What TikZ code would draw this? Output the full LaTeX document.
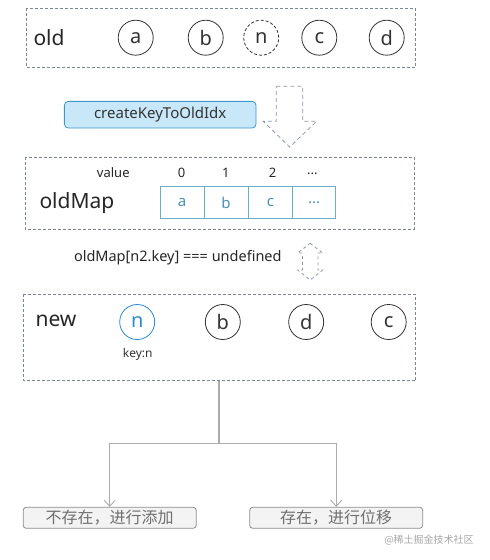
\documentclass[tikz,border=0pt]{standalone}
\usepackage{fontspec}
\setmainfont{Noto Sans}
\newfontfamily\cjk{Noto Sans CJK SC}
\usetikzlibrary{arrows.meta}
\definecolor{dashgray}{HTML}{7B8794}
\definecolor{circblack}{HTML}{333333}
\definecolor{nblue}{HTML}{2D8BC9}
\definecolor{cellline}{HTML}{6AAFC8}
\definecolor{celltext}{HTML}{4A8FB5}
\definecolor{btnfill}{HTML}{C8E8F9}
\definecolor{btnline}{HTML}{3F94CC}
\definecolor{arrowgray}{HTML}{8A96A8}
\definecolor{resfill}{HTML}{F3F3F3}
\definecolor{resline}{HTML}{8C8C8C}
\definecolor{restext}{HTML}{707070}
\definecolor{linegray}{HTML}{ABABAB}
\tikzset{
  panel/.style={draw=dashgray, dashed, line width=0.7pt, dash pattern=on 3pt off 2pt},
  letter/.style={circle, draw=circblack, line width=0.8pt, minimum size=35pt, inner sep=0pt, font=\fontsize{20}{20}\selectfont, text=circblack},
  bigtxt/.style={font=\fontsize{21}{21}\selectfont, text=black!85},
  smalltxt/.style={font=\fontsize{13}{13}\selectfont, text=black!85},
  cell/.style={draw=cellline, line width=0.8pt, minimum width=44pt, minimum height=31.6pt, inner sep=0pt, font=\fontsize{15}{15}\selectfont, text=celltext},
  result/.style={draw=resline, fill=resfill, rounded corners=3pt, line width=0.8pt, minimum width=173pt, minimum height=21pt, inner sep=0pt, font=\cjk\fontsize{16}{16}\selectfont, text=restext},
  conn/.style={draw=linegray, line width=1.2pt},
  blockarrow/.style={draw=arrowgray, dashed, line width=0.8pt, dash pattern=on 4pt off 3pt}
}
\begin{document}
\begin{tikzpicture}[x=1pt,y=-1pt]
\useasboundingbox (0,0) rectangle (490,560);
% old panel
\draw[panel] (26,8) rectangle (415.5,67);
\node[bigtxt, anchor=west] (oldlbl) at (30,37.5) {old};
\node[letter] (oa) at (135.7,37.7) {a};
\node[letter] (ob) at (205.7,37.7) {b};
\node[letter, dashed, dash pattern=on 3pt off 2pt] (on) at (261.2,37.7) {n};
\node[letter] (oc) at (319.3,37.7) {c};
\node[letter] (od) at (386.7,37.7) {d};
% createKeyToOldIdx
\node[draw=btnline, fill=btnfill, rounded corners=4pt, line width=0.8pt, minimum width=191.7pt, minimum height=26.7pt, inner sep=0pt, font=\fontsize{15}{15}\selectfont, text=black!80] (ck) at (160.2,114.7) {createKeyToOldIdx};
% dashed block arrow down
\draw[blockarrow] (276.3,86.3) -- (302.7,86.3) -- (302.7,121.3) -- (316.7,121.3) -- (289.7,147) -- (263.3,121.3) -- (276.3,121.3) -- cycle;
% oldMap panel
\draw[panel] (25.3,157.3) rectangle (414,229.3);
\node[bigtxt, anchor=west] (omlbl) at (36,202.7) {oldMap};
\node[smalltxt] (val) at (113.3,172.7) {value};
\node[smalltxt] (i0) at (181.7,172.7) {0};
\node[smalltxt] (i1) at (225.8,172.7) {1};
\node[smalltxt] (i2) at (272.7,172.7) {2};
\node[smalltxt] (i3) at (312.3,174) {...};
\node[cell, anchor=west] (ca) at (159.7,202.5) {a};
\node[cell, anchor=west] (cb) at (203.7,202.5) {b};
\node[cell, anchor=west] (cc) at (248,202.5) {c};
\node[cell, anchor=west, minimum width=43.3pt] (cd) at (292,202.5) {...};
% condition text
\node[smalltxt, font=\fontsize{14.5}{14.5}\selectfont] (cond) at (177.8,257.7) {oldMap[n2.key] === undefined};
% double dashed arrow
\draw[blockarrow, dash pattern=on 3pt off 3pt] (310.2,243.3) -- (322.7,253) -- (318,253) -- (318,270) -- (322.7,270) -- (310.2,280) -- (297.7,270) -- (302.4,270) -- (302.4,253) -- (297.7,253) -- cycle;
% new panel
\draw[panel] (23.3,294.3) rectangle (415.7,380.7);
\node[bigtxt, anchor=west] (newlbl) at (32,320.7) {new};
\node[letter, draw=nblue, text=nblue] (nn) at (137.2,322) {n};
\node[letter] (nb) at (222.8,322) {b};
\node[letter] (nd) at (306.2,322) {d};
\node[letter] (nc) at (388.7,322) {c};
\node[font=\fontsize{12}{12}\selectfont, text=black!80] (key) at (137.7,354) {key:n};
% results
\coordinate (top) at (219,380.7);
\coordinate (split) at (219,443.7);
\node[result] (r1) at (109.7,517.8) {不存在，进行添加};
\node[result] (r2) at (336.2,517.8) {存在，进行位移};
\draw[conn] (top) -- (split);
\draw[conn, line width=0.9pt, -{Straight Barb[length=6pt,width=11pt]}] (split) -| (r1.north);
\draw[conn, line width=0.9pt, -{Straight Barb[length=6pt,width=11pt]}] (split) -| (r2.north);
% watermark
\node[font=\cjk\fontsize{10}{10}\selectfont, text=black!35] (wm) at (429,539.7) {@稀土掘金技术社区};
\end{tikzpicture}
\end{document}
